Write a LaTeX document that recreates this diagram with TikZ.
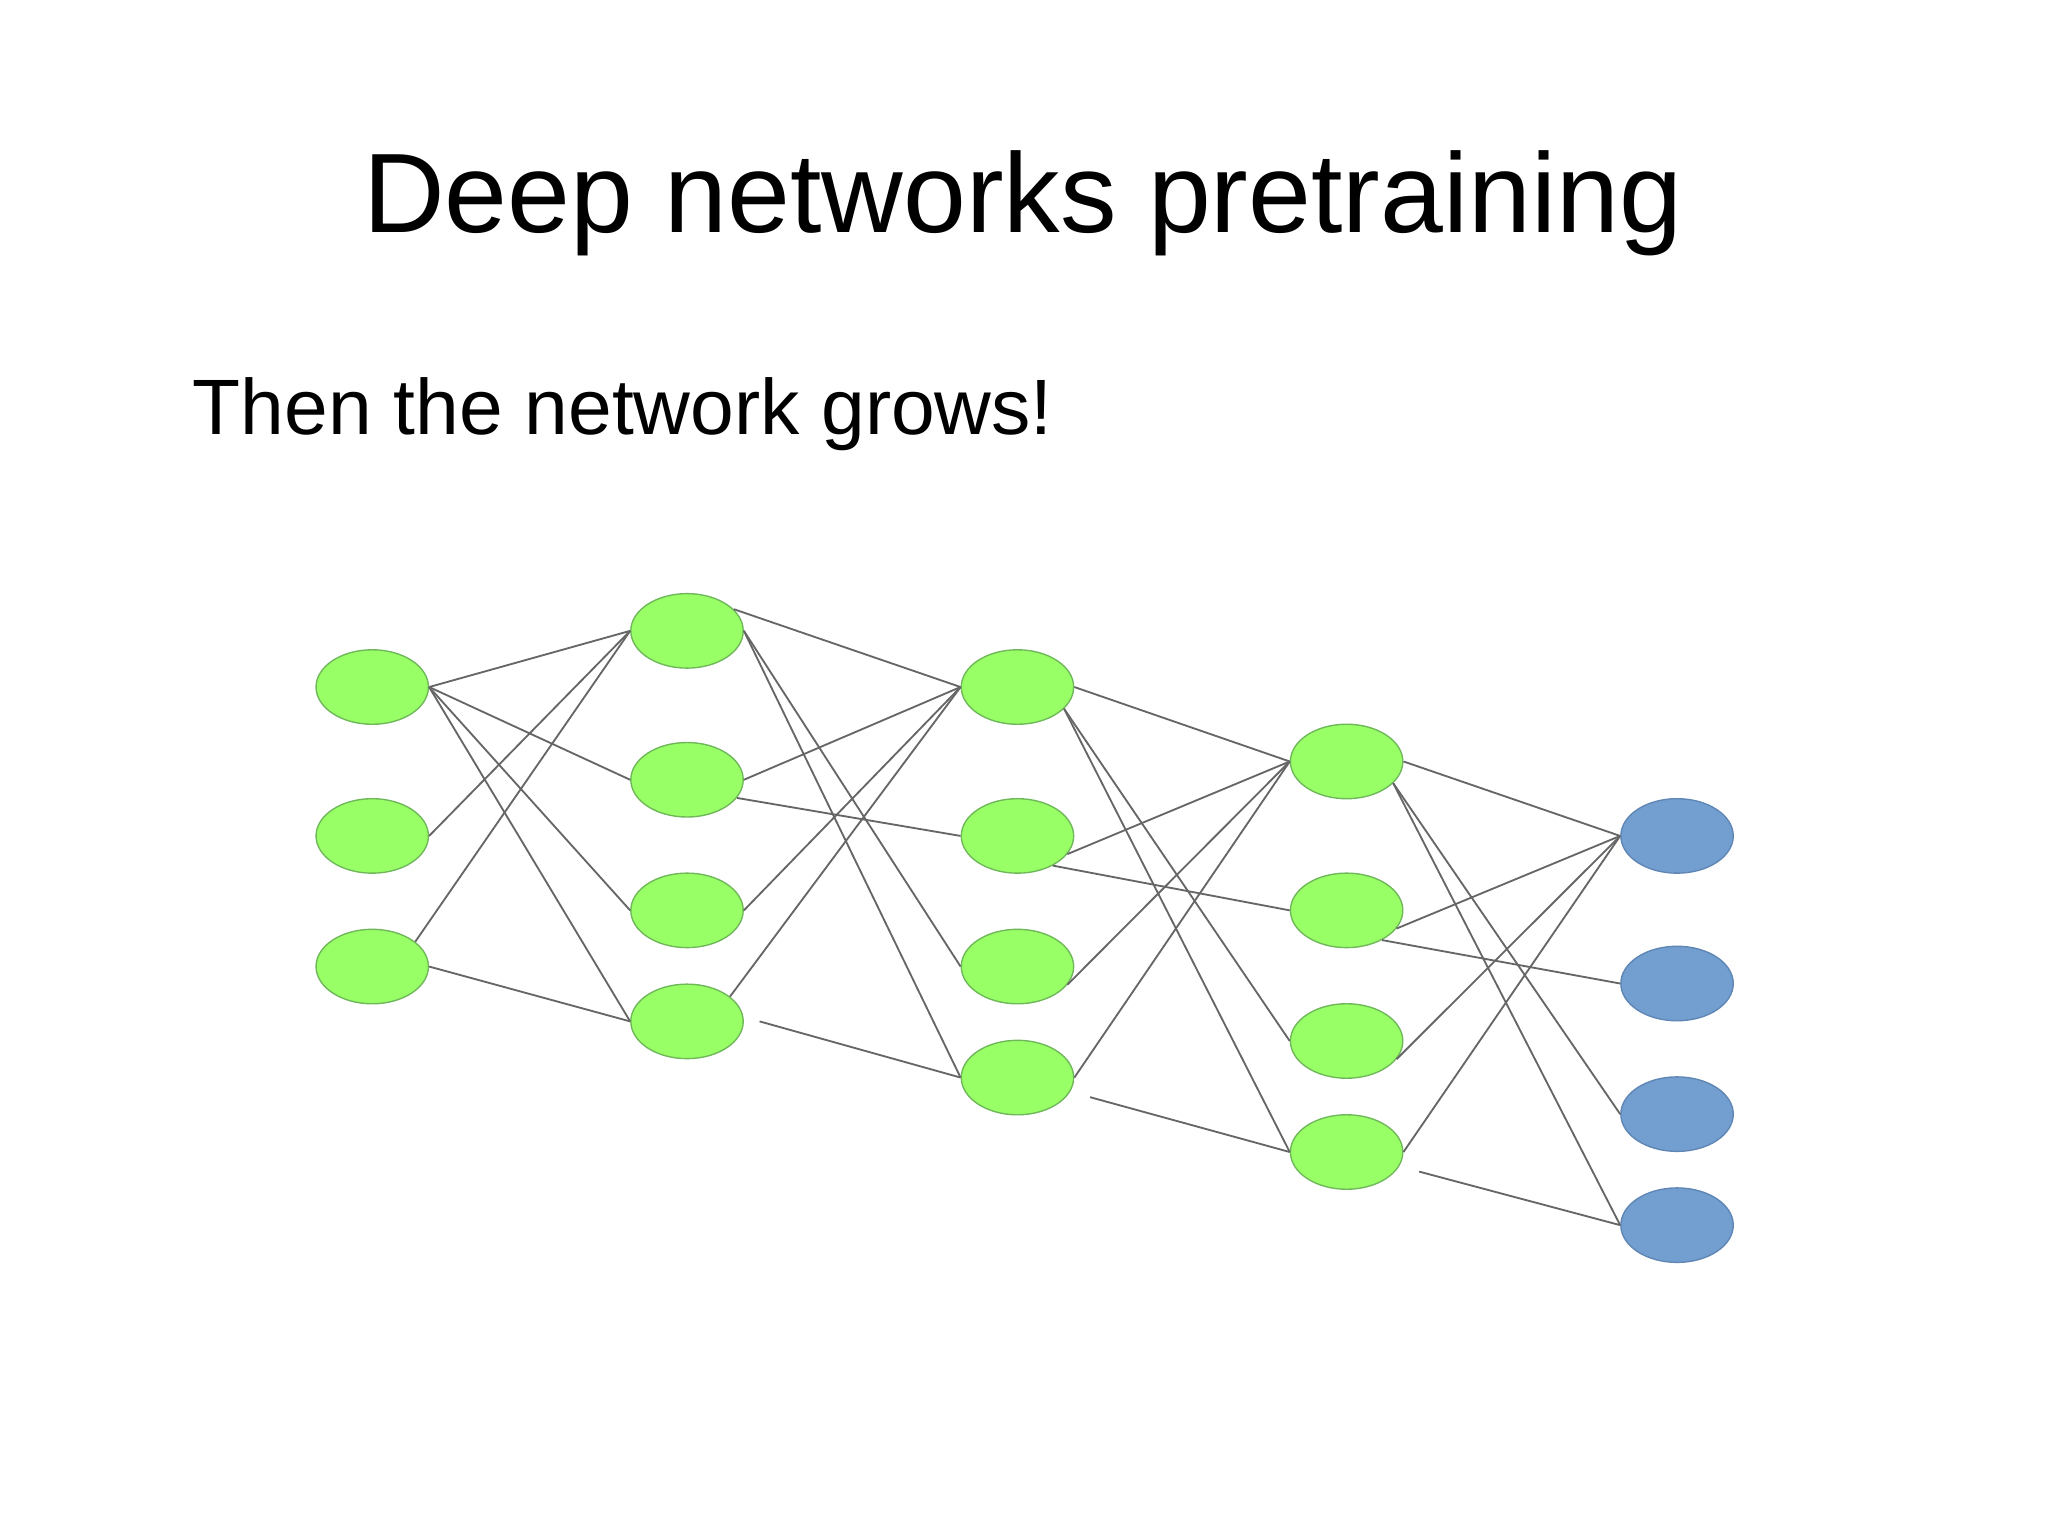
\documentclass[tikz,border=0pt]{standalone}
\usepackage{fontspec}
\setmainfont{Liberation Sans}
\usetikzlibrary{shapes.geometric}
\definecolor{nodegreen}{HTML}{99FF66}
\definecolor{greenline}{HTML}{6FB85A}
\definecolor{nodeblue}{HTML}{729FCF}
\definecolor{blueline}{HTML}{5F86B5}
\begin{document}
\begin{tikzpicture}[x=0.01cm, y=-0.01cm,
    neuron/.style={ellipse, minimum width=0.86cm, minimum height=0.57cm, inner sep=0pt, line width=0.3pt},
    hid/.style={neuron, fill=nodegreen, draw=greenline},
    outn/.style={neuron, fill=nodeblue, draw=blueline},
    link/.style={draw=black!60, line width=0.4pt}
]
\useasboundingbox (0,0) rectangle (1568,1175);
\fill[white] (0,0) rectangle (1568,1175);

% Texts
\node[anchor=base, inner sep=0pt, font=\fontsize{24.6}{28}\selectfont] (title) at (783,178) {Deep networks pretraining};
\node[anchor=base west, inner sep=0pt, font=\fontsize{17.1}{20}\selectfont] (sub) at (147,333) {Then the network grows!};

% Layer 1
\node[hid] (a1) at (285,526) {};
\node[hid] (a2) at (285,640) {};
\node[hid] (a3) at (285,740) {};
% Layer 2
\node[hid] (b1) at (526,483) {};
\node[hid] (b2) at (526,597) {};
\node[hid] (b3) at (526,697) {};
\node[hid] (b4) at (526,782) {};
% Layer 3
\node[hid] (c1) at (779,526) {};
\node[hid] (c2) at (779,640) {};
\node[hid] (c3) at (779,740) {};
\node[hid] (c4) at (779,825) {};
% Layer 4
\node[hid] (d1) at (1031,583) {};
\node[hid] (d2) at (1031,697) {};
\node[hid] (d3) at (1031,797) {};
\node[hid] (d4) at (1031,882) {};
% Layer 5
\node[outn] (e1) at (1284,640) {};
\node[outn] (e2) at (1284,753) {};
\node[outn] (e3) at (1284,853) {};
\node[outn] (e4) at (1284,938) {};

% Layer 1 -> 2
\draw[link] (a1.east) -- (b1.west);
\draw[link] (a1.east) -- (b2.west);
\draw[link] (a1.east) -- (b3.west);
\draw[link] (a1.east) -- (b4.west);
\draw[link] (a2.east) -- (b1.west);
\draw[link] (a3.30) -- (b1.west);
\draw[link] (a3.east) -- (b4.west);

% Layer 2 -> 3
\draw[link] (b1.25) -- (c1.west);
\draw[link] (b1.east) -- (c3.west);
\draw[link] (b1.east) -- (c4.west);
\draw[link] (b2.east) -- (c1.west);
\draw[link] (b2.-20) -- (c2.west);
\draw[link] (b3.east) -- (c1.west);
\draw[link] (b4.30) -- (c1.west);
\draw[link] ([xshift=0.12cm]b4.east) -- (c4.west);

% Layer 3 -> 4
\draw[link] (c1.east) -- (d1.west);
\draw[link] (c1.-25) -- (d3.west);
\draw[link] (c1.-25) -- (d4.west);
\draw[link] (c2.-20) -- (d1.west);
\draw[link] (c2.-40) -- (d2.west);
\draw[link] (c3.-20) -- (d1.west);
\draw[link] (c4.east) -- (d1.west);
\draw[link] ([xshift=0.12cm,yshift=-0.15cm]c4.east) -- (d4.west);

% Layer 4 -> 5
\draw[link] (d1.east) -- (e1.west);
\draw[link] (d1.-25) -- (e3.west);
\draw[link] (d1.-25) -- (e4.west);
\draw[link] (d2.-20) -- (e1.west);
\draw[link] (d2.-40) -- (e2.west);
\draw[link] (d3.-20) -- (e1.west);
\draw[link] (d4.east) -- (e1.west);
\draw[link] ([xshift=0.12cm,yshift=-0.15cm]d4.east) -- (e4.west);
\end{tikzpicture}
\end{document}
